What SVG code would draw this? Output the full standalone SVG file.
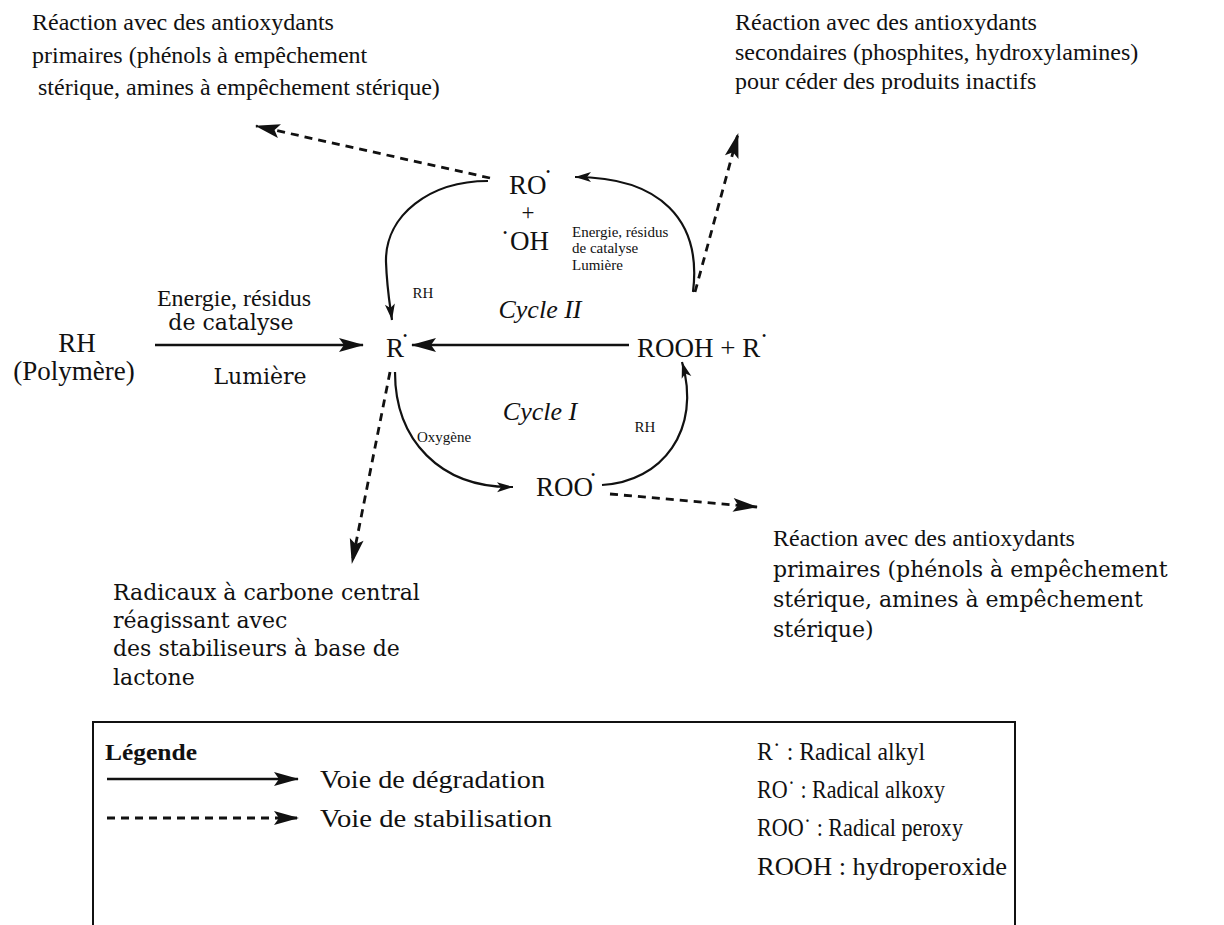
<svg xmlns="http://www.w3.org/2000/svg" width="1224" height="925" viewBox="0 0 1224 925" font-family="'Liberation Serif', 'Times New Roman', serif">
<defs>
<style>
text{font-family:"Liberation Serif","Times New Roman",serif;fill:#111}
.desc{font-size:24px}
.wide{font-family:"DejaVu Serif","Liberation Serif",serif;font-size:22px}
.lbl{font-size:27px}
.cyc{font-size:26px;font-style:italic}
.sm{font-size:15px}
.leg{font-size:25px}
.solid{fill:none;stroke:#111;stroke-width:2.4}
.dash{fill:none;stroke:#111;stroke-width:2.8;stroke-dasharray:8 6}
.arc{fill:none;stroke:#111;stroke-width:2.2}
</style>
<marker id="big" markerUnits="userSpaceOnUse" viewBox="-2 -8 28 16" refX="24" refY="0" markerWidth="28" markerHeight="16" orient="auto">
<path d="M0,-7 L25,0 L0,7 L5,0 Z" fill="#111"/>
</marker>
<marker id="sml" markerUnits="userSpaceOnUse" viewBox="-2 -6 20 12" refX="16" refY="0" markerWidth="20" markerHeight="12" orient="auto">
<path d="M0,-5 L16,0 L0,5 L4,0 Z" fill="#111"/>
</marker>
</defs>
<rect width="1224" height="925" fill="#fff"/>

<g id="txt-top-left">
<text x="32" y="30" class="desc">Réaction avec des antioxydants</text>
<text x="32" y="63" class="desc">primaires (phénols à empêchement</text>
<text x="38" y="95" class="desc">stérique, amines à empêchement stérique)</text>
</g>
<g id="txt-top-right">
<text x="735" y="30" class="desc">Réaction avec des antioxydants</text>
<text x="735" y="60" class="desc">secondaires (phosphites, hydroxylamines)</text>
<text x="735" y="89" class="desc">pour céder des produits inactifs</text>
</g>

<g id="node-RO-OH">
<text x="509" y="194" class="lbl" font-size="26">RO</text>
<text x="546" y="176" font-size="12">•</text>
<text x="528" y="220" text-anchor="middle" font-size="23">+</text>
<text x="503" y="237" font-size="12">•</text>
<text x="510" y="250" class="lbl" font-size="26">OH</text>
</g>

<g id="node-R">
<text x="386" y="357" class="lbl">R</text>
<text x="403" y="340" font-size="12">•</text>
</g>

<g id="node-ROOH">
<text x="637" y="357" class="lbl">ROOH + R</text>
<text x="762" y="340" font-size="12">•</text>
</g>

<g id="node-RH">
<text x="77" y="352" class="lbl" text-anchor="middle" font-size="26">RH</text>
<text x="74" y="380" class="lbl" text-anchor="middle" font-size="26">(Polymère)</text>
</g>

<g id="node-ROO">
<text x="536" y="496" class="lbl">ROO</text>
<text x="591" y="479" font-size="12">•</text>
</g>

<g id="labels">
<text x="234" y="306" class="desc" text-anchor="middle">Energie, résidus</text>
<text x="231" y="330" class="wide" text-anchor="middle">de catalyse</text>
<text x="260" y="384" class="wide" text-anchor="middle">Lumière</text>
<text x="423" y="298" class="sm" text-anchor="middle">RH</text>
<text x="572" y="237" class="sm">Energie, résidus</text>
<text x="572" y="253" class="sm">de catalyse</text>
<text x="572" y="270" class="sm">Lumière</text>
<text x="540" y="318" class="cyc" text-anchor="middle">Cycle II</text>
<text x="540" y="420" class="cyc" text-anchor="middle">Cycle I</text>
<text x="417" y="442" class="sm">Oxygène</text>
<text x="645" y="432" class="sm" text-anchor="middle">RH</text>
</g>

<g id="txt-bottom-right">
<text x="773" y="546" class="desc">Réaction avec des antioxydants</text>
<text x="773" y="577" class="wide">primaires (phénols à empêchement</text>
<text x="773" y="607" class="wide">stérique, amines à empêchement</text>
<text x="773" y="637" class="wide">stérique)</text>
</g>
<g id="txt-bottom-left">
<text x="113" y="600" class="wide">Radicaux à carbone central</text>
<text x="113" y="628" class="wide">réagissant avec</text>
<text x="113" y="656" class="wide">des stabiliseurs à base de</text>
<text x="113" y="685" class="wide">lactone</text>
</g>

<g id="connectors">
<line x1="155" y1="345" x2="363" y2="345" class="solid" marker-end="url(#big)"/>
<line x1="629" y1="345" x2="412" y2="345" class="solid" marker-end="url(#big)"/>
<path d="M488,181 C430,181 385,215 386,262 C387,290 390,305 392,320" class="arc" marker-end="url(#sml)"/>
<path d="M693,292 C702,220 660,177 575,177" class="arc" marker-end="url(#sml)"/>
<path d="M395,372 C395,440 440,488 513,487" class="arc" marker-end="url(#sml)"/>
<path d="M602,485 C662,482 702,430 682,362" class="arc" marker-end="url(#sml)"/>
<line x1="490" y1="178" x2="256" y2="126" class="dash" marker-end="url(#big)"/>
<line x1="695" y1="292" x2="738" y2="134" class="dash" marker-end="url(#big)"/>
<line x1="390" y1="372" x2="352" y2="563" class="dash" marker-end="url(#big)"/>
<line x1="610" y1="494" x2="757" y2="507" class="dash" marker-end="url(#big)"/>
</g>

<g id="legend">
<rect x="93" y="722" width="922" height="215" fill="none" stroke="#111" stroke-width="2"/>
<text x="105" y="760" font-size="24" font-weight="bold" textLength="92" lengthAdjust="spacingAndGlyphs">Légende</text>
<line x1="107" y1="779" x2="298" y2="779" class="solid" marker-end="url(#big)"/>
<text x="320" y="788" class="leg" textLength="225" lengthAdjust="spacingAndGlyphs">Voie de dégradation</text>
<line x1="107" y1="818" x2="298" y2="818" class="dash" stroke-dasharray="4 3" stroke-width="2" marker-end="url(#big)"/>
<text x="320" y="827" class="leg" textLength="232" lengthAdjust="spacingAndGlyphs">Voie de stabilisation</text>
<text x="757" y="760" class="leg" textLength="168" lengthAdjust="spacingAndGlyphs">R˙ : Radical alkyl</text>
<text x="757" y="798" class="leg" textLength="188" lengthAdjust="spacingAndGlyphs">RO˙ : Radical alkoxy</text>
<text x="757" y="836" class="leg" textLength="206" lengthAdjust="spacingAndGlyphs">ROO˙ : Radical peroxy</text>
<text x="757" y="875" class="leg" textLength="250" lengthAdjust="spacingAndGlyphs">ROOH : hydroperoxide</text>
</g>
</svg>
